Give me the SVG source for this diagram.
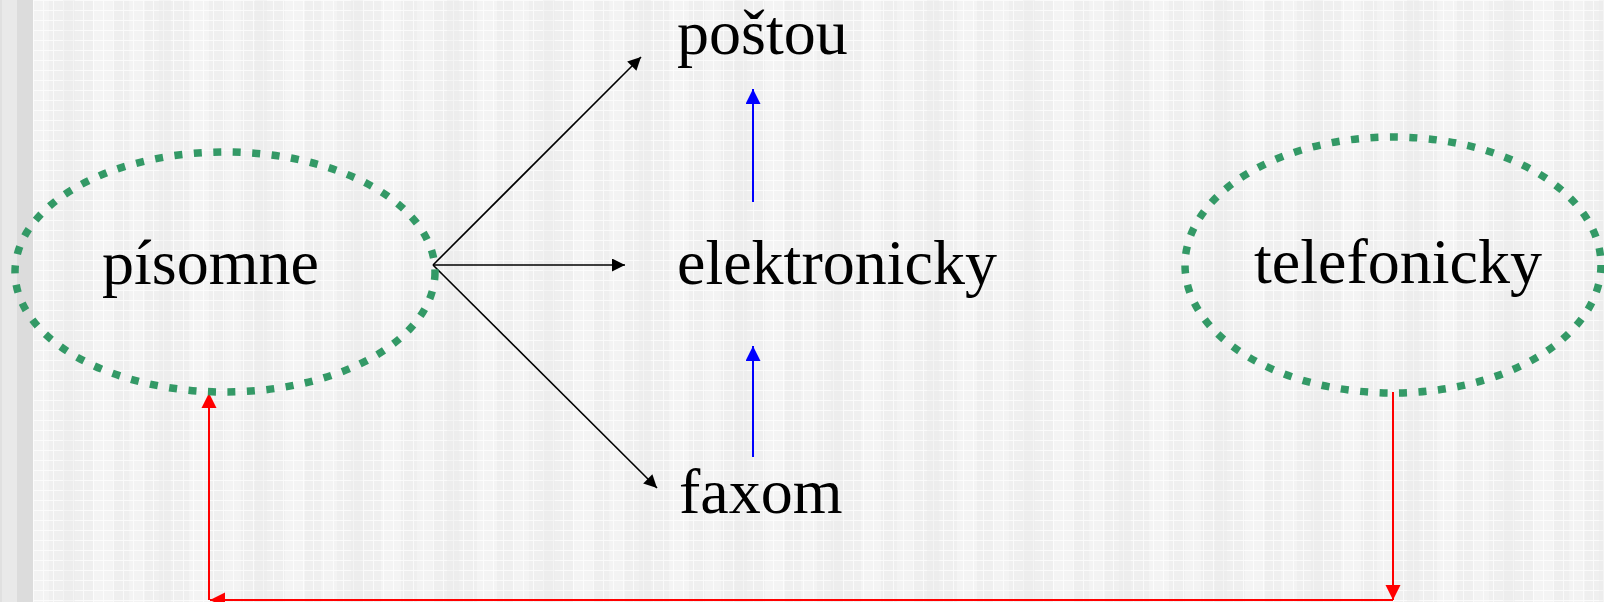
<svg xmlns="http://www.w3.org/2000/svg" width="1604" height="602" viewBox="0 0 1604 602">
  <defs>
    <pattern id="grid" x="33" y="0" width="10" height="10" patternUnits="userSpaceOnUse">
      <rect width="10" height="10" fill="#efefef"/>
      <rect x="0" y="0" width="10" height="1" fill="#fafafa"/>
      <rect x="0" y="0" width="1" height="10" fill="#fafafa"/>
    </pattern>
    <pattern id="bands" x="33" y="0" width="96" height="10" patternUnits="userSpaceOnUse">
      <rect x="0" width="16" height="10" fill="#ffffff" opacity="0.25"/>
      <rect x="30" width="12" height="10" fill="#e6e6e6" opacity="0.35"/>
      <rect x="60" width="20" height="10" fill="#ffffff" opacity="0.3"/>
    </pattern>
    <marker id="ah-black" viewBox="0 0 10 10" refX="10" refY="5" markerWidth="18" markerHeight="13" markerUnits="userSpaceOnUse" orient="auto">
      <path d="M0,0 L10,5 L0,10 z" fill="#000"/>
    </marker>
    <marker id="ah-blue" viewBox="0 0 10 10" refX="10" refY="5" markerWidth="15" markerHeight="15" markerUnits="userSpaceOnUse" orient="auto">
      <path d="M0,0 L10,5 L0,10 z" fill="#0000ff"/>
    </marker>
    <marker id="ah-red" viewBox="0 0 10 10" refX="10" refY="5" markerWidth="15" markerHeight="16" markerUnits="userSpaceOnUse" orient="auto">
      <path d="M0,0 L10,5 L0,10 z" fill="#ff0000"/>
    </marker>
  </defs>
  <style>
    .lbl { font-family: "Liberation Serif", "Times New Roman", serif; font-size: 64px; fill: #000; }
    .oval { fill: none; stroke: #339966; stroke-width: 7.5; stroke-dasharray: 8 11.5; }
    .blk { stroke: #000; stroke-width: 1.6; fill: none; marker-end: url(#ah-black); }
    .blu { stroke: #0000ff; stroke-width: 2; fill: none; marker-end: url(#ah-blue); }
    .red { stroke: #ff0000; stroke-width: 2; fill: none; }
  </style>

  <g id="background">
    <rect x="0" y="0" width="1604" height="602" fill="#efefef"/>
    <rect x="0" y="0" width="2" height="602" fill="#e0e0e0"/>
    <rect x="2" y="0" width="15" height="602" fill="#e9e9e9"/>
    <rect x="17" y="0" width="16" height="602" fill="#dcdcdc"/>
    <rect x="33" y="0" width="1571" height="602" fill="url(#grid)"/>
    <rect x="33" y="0" width="1571" height="602" fill="url(#bands)"/>
  </g>

  <g id="connectors">
    <line class="blk" x1="433" y1="265" x2="641" y2="57"/>
    <line class="blk" x1="433" y1="265" x2="625" y2="265"/>
    <line class="blk" x1="433" y1="265" x2="657" y2="488"/>
    <line class="blu" x1="753" y1="202" x2="753" y2="89"/>
    <line class="blu" x1="753" y1="457" x2="753" y2="346"/>
    <line class="red" x1="1393" y1="392" x2="1393" y2="600" marker-end="url(#ah-red)"/>
    <line class="red" x1="1393" y1="600" x2="210" y2="600" marker-end="url(#ah-red)"/>
    <line class="red" x1="209" y1="600" x2="209" y2="393" marker-end="url(#ah-red)"/>
  </g>

  <g id="node-pisomne">
    <ellipse class="oval" cx="225" cy="272" rx="210" ry="120"/>
    <text class="lbl" x="102" y="284">písomne</text>
  </g>
  <g id="node-postou">
    <text class="lbl" x="677" y="54">poštou</text>
  </g>
  <g id="node-elektronicky">
    <text class="lbl" x="677" y="284">elektronicky</text>
  </g>
  <g id="node-faxom">
    <text class="lbl" x="679" y="513">faxom</text>
  </g>
  <g id="node-telefonicky">
    <ellipse class="oval" cx="1393" cy="265" rx="208" ry="128"/>
    <text class="lbl" x="1254" y="283">telefonicky</text>
  </g>
</svg>
